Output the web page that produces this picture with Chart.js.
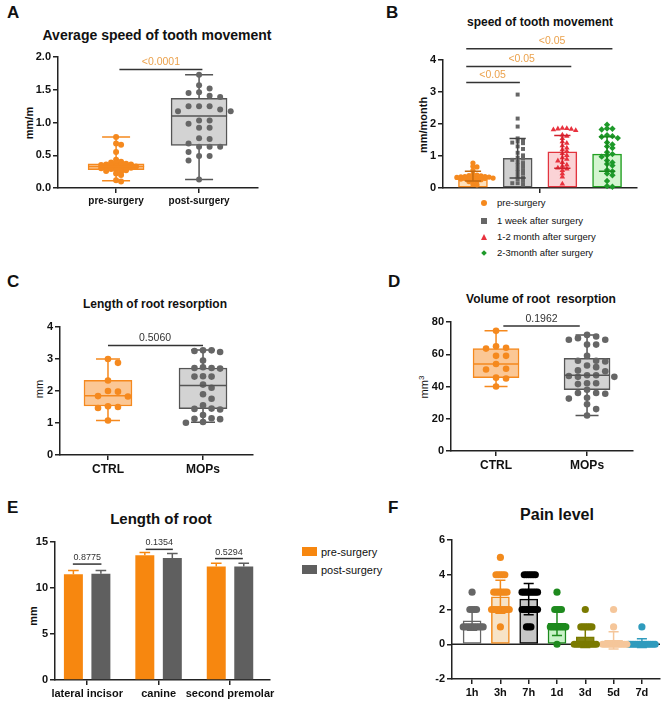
<!DOCTYPE html>
<html>
<head>
<meta charset="utf-8">
<script src="https://cdn.jsdelivr.net/npm/chart.js@4.4.1/dist/chart.umd.min.js"></script>
<style>
body { margin: 0; width: 669px; height: 702px; position: relative; overflow: hidden; background: #fff;
       font-family: "Liberation Sans", Arial, sans-serif; color: #111; }
canvas { position: absolute; }
.t { position: absolute; white-space: pre; transform: translate(-50%, -50%); line-height: 1; font-weight: bold; }
.yl { position: absolute; white-space: nowrap; transform: translate(-50%, -50%) rotate(-90deg); line-height: 1; font-size: 11px; }
.lt { position: absolute; font-weight: bold; font-size: 17px; line-height: 1; }
.lg { position: absolute; white-space: nowrap; line-height: 1; transform: translateY(-50%); }
.mk { position: absolute; transform: translate(-50%, -50%); }
</style>
</head>
<body>
<!-- panel letters -->
<div class="lt" style="left:7px;top:4px">A</div>
<div class="lt" style="left:386px;top:4px">B</div>
<div class="lt" style="left:7px;top:273px">C</div>
<div class="lt" style="left:388px;top:273px">D</div>
<div class="lt" style="left:7px;top:499px">E</div>
<div class="lt" style="left:388px;top:499px">F</div>

<!-- titles -->
<div class="t" style="left:157px;top:35px;font-size:14px">Average speed of tooth movement</div>
<div class="t" style="left:540px;top:22px;font-size:12px">speed of tooth movement</div>
<div class="t" style="left:155px;top:304px;font-size:12px">Length of root resorption</div>
<div class="t" style="left:541px;top:299px;font-size:12px">Volume of root  resorption</div>
<div class="t" style="left:161px;top:518px;font-size:15px">Length of root</div>
<div class="t" style="left:557px;top:515px;font-size:16px">Pain level</div>

<!-- y axis titles -->
<div class="yl" style="left:29px;top:123px;font-weight:bold">mm/m</div>
<div class="yl" style="left:423px;top:125px;font-weight:bold">mm/month</div>
<div class="yl" style="left:39px;top:389px">mm</div>
<div class="yl" style="left:424px;top:387px">mm<sup style="font-size:8px">3</sup></div>
<div class="yl" style="left:33px;top:616px;font-weight:bold">mm</div>

<!-- legend B -->
<div class="mk" style="left:484px;top:203px;width:6px;height:6px;border-radius:50%;background:#f5891e"></div>
<div class="lg" style="left:497px;top:203px;font-size:9.5px">pre-surgery</div>
<div class="mk" style="left:484px;top:221px;width:6px;height:6px;background:#666"></div>
<div class="lg" style="left:497px;top:221px;font-size:9.5px">1 week after surgery</div>
<div class="mk" style="left:484px;top:237px;width:0;height:0;border-left:3px solid transparent;border-right:3px solid transparent;border-bottom:6px solid #e8323e"></div>
<div class="lg" style="left:497px;top:237px;font-size:9.5px">1-2 month after surgery</div>
<div class="mk" style="left:484px;top:253px;width:4px;height:4px;background:#1e9a2a;transform:translate(-50%,-50%) rotate(45deg)"></div>
<div class="lg" style="left:497px;top:253px;font-size:9.5px">2-3month after surgery</div>

<!-- legend E -->
<div style="position:absolute;left:302px;top:547px;width:15px;height:9px;background:#f7870f"></div>
<div class="lg" style="left:321px;top:552px;font-size:11px">pre-surgery</div>
<div style="position:absolute;left:302px;top:565px;width:15px;height:9px;background:#5f5f5f"></div>
<div class="lg" style="left:321px;top:570px;font-size:11px">post-surgery</div>

<script>
// ---------- data ----------
// A: average speed of tooth movement (mm/m)
const speedCats = ['pre-surgery', 'post-surgery'];
const speedPre = [0.78, 0.68, 0.66, 0.55, 0.43, 0.40, 0.39, 0.38, 0.37, 0.36, 0.36, 0.35, 0.35, 0.34, 0.33,
                  0.33, 0.32, 0.31, 0.31, 0.30, 0.30, 0.29, 0.28, 0.27, 0.26, 0.25, 0.22, 0.20, 0.12, 0.10];
const speedPost = [1.73, 1.57, 1.52, 1.46, 1.45, 1.41, 1.39, 1.25, 1.25, 1.25, 1.20, 1.17, 1.17, 1.03, 1.03,
                   0.98, 0.92, 0.92, 0.76, 0.75, 0.68, 0.63, 0.63, 0.63, 0.55, 0.49, 0.49, 0.42, 0.13];
// [min, q1, median, q3, max]
const speedBoxes = [[0.11, 0.28, 0.33, 0.37, 0.78], [0.13, 0.65, 1.10, 1.37, 1.73]];
const speedP = ['<0.0001'];

// B: speed of tooth movement by phase (mm/month)
const phaseNames = ['pre-surgery', '1 week after surgery', '1-2 month after surgery', '2-3month after surgery'];
const phaseMean = [0.37, 0.93, 1.13, 1.06];
const phaseSd = [0.15, 0.62, 0.51, 0.54];
const phaseWeek = [2.92, 2.17, 1.92, 1.55, 1.50, 1.45, 1.42, 1.40, 1.30, 1.22, 1.10, 1.02, 0.95, 0.92, 0.88,
                   0.82, 0.78, 0.72, 0.66, 0.60, 0.55, 0.50, 0.45, 0.38, 0.32, 0.28, 0.22, 0.15, 0.10, 0.15];
const phaseMonth12 = [1.87, 1.86, 1.85, 1.84, 1.82, 1.80, 1.66, 1.62, 1.55, 1.45, 1.40, 1.32, 1.25, 1.20, 1.15,
                      1.08, 1.02, 0.95, 0.90, 0.85, 0.80, 0.72, 0.68, 0.63, 0.60, 0.55, 0.45, 0.35, 0.13];
const phaseMonth23 = [1.98, 1.86, 1.85, 1.83, 1.65, 1.62, 1.60, 1.56, 1.42, 1.36, 1.30, 1.25, 1.12, 1.06,
                      1.02, 0.98, 0.86, 0.80, 0.75, 0.70, 0.56, 0.52, 0.45, 0.40, 0.22, 0.06, 0.04];
const phaseP = ['<0.05', '<0.05', '<0.05'];

// C: length of root resorption (mm)
const resCats = ['CTRL', 'MOPs'];
const lenCtrl = [3.00, 2.88, 2.33, 2.00, 1.98, 1.84, 1.83, 1.52, 1.50, 1.47, 1.08];
const lenMops = [3.27, 3.27, 3.25, 3.22, 2.95, 2.74, 2.72, 2.72, 2.70, 2.46, 2.45, 2.45, 2.20, 2.10, 1.90,
                 1.76, 1.55, 1.45, 1.44, 1.42, 1.25, 1.15, 1.13, 1.12, 1.03, 1.01];
const lenBoxes = [[1.08, 1.53, 1.85, 2.33, 3.00], [1.02, 1.45, 2.17, 2.72, 3.28]];
const lenP = ['0.5060'];

// D: volume of root resorption (mm3)
const volCtrl = [74.5, 65, 64, 63.5, 59, 59, 54, 51, 50.5, 45.5, 45, 40];
const volMops = [72, 71, 70, 69, 69, 66, 66, 59, 56, 56, 55.5, 53, 52, 50, 49.5, 47, 47, 46.5, 46, 46,
                 42, 42, 41.5, 38, 36, 36, 35.5, 33, 32.5, 29, 26, 22];
const volBoxes = [[40, 45.5, 54, 63.5, 74.5], [22, 38, 47, 57.5, 72]];
const volP = ['0.1962'];

// E: length of root (mm)
const toothCats = ['lateral incisor', 'canine', 'second premolar'];
const rootPre = [11.5, 13.55, 12.35];
const rootPost = [11.55, 13.25, 12.35];
const rootPreErr = [0.4, 0.3, 0.35];
const rootPostErr = [0.35, 0.5, 0.35];
const rootP = ['0.8775', '0.1354', '0.5294'];

// F: pain level
const painCats = ['1h', '3h', '7h', '1d', '3d', '5d', '7d'];
const painMean = [1.35, 2.73, 2.6, 1.2, 0.42, 0.22, 0.07];
const painSd = [0.55, 0.95, 0.9, 0.7, 0.6, 0.5, 0.25];
const painScores = [
    [3, 2, 2, 2, 2, 1, 1, 1, 1, 1, 1, 1, 1, 1, 1],
    [5, 4, 4, 4, 4, 4, 3, 3, 3, 3, 3, 3, 3, 2, 2, 2, 2, 2, 2, 2, 2, 2, 1],
    [4, 4, 4, 4, 4, 4, 3, 3, 3, 3, 3, 3, 3, 3, 2, 2, 2, 2, 2, 2, 2, 2, 1, 1, 1],
    [3, 2, 2, 2, 2, 1, 1, 1, 1, 1, 1, 1, 1, 0],
    [2, 1, 1, 1, 1, 1, 1, 0, 0, 0, 0, 0, 0, 0, 0, 0, 0, 0],
    [2, 1, 0, 0, 0, 0, 0, 0, 0, 0, 0, 0, 0, 0],
    [1, 0, 0, 0, 0, 0, 0, 0, 0, 0, 0, 0, 0, 0]
];

// ---------- styling ----------
const FONT = '"Liberation Sans", Arial, sans-serif';
Chart.defaults.font.family = FONT;
Chart.defaults.color = '#111';

const ORANGE = '#f5891e';
const ORANGE_FILL = '#fbc795';
const GRAY_DOT = '#666666';
const GRAY_FILL = '#d3d3d3';
const GRAY_LINE = '#555555';
const AXIS = '#222';

// space around each plot area inside its canvas
const M = { l: 50, t: 50, r: 14, b: 30 };

const grid = { drawOnChartArea: false, drawTicks: true, tickLength: 5, lineWidth: 1.5, color: AXIS, offset: false };
const border = { display: true, width: 1.5, color: AXIS };

function mount(rect) {
    const c = document.createElement('canvas');
    const w = rect.r - rect.l + M.l + M.r;
    const h = rect.b - rect.t + M.t + M.b;
    c.width = w;
    c.height = h;
    c.style.left = (rect.l - M.l) + 'px';
    c.style.top = (rect.t - M.t) + 'px';
    c.style.width = w + 'px';
    c.style.height = h + 'px';
    document.body.appendChild(c);
    return c;
}

function yAxis(min, max, step, fmt) {
    return {
        type: 'linear', min, max,
        grid, border,
        ticks: { stepSize: step, callback: fmt || (v => v), font: { size: 11, weight: 'bold' }, padding: 2 },
        afterFit: s => { s.width = M.l; }
    };
}

function xAxis(min, max, positions, labels, size) {
    return {
        type: 'linear', min, max, offset: false,
        grid, border,
        afterBuildTicks: s => { s.ticks = positions.map(v => ({ value: v })); },
        ticks: { autoSkip: false, maxRotation: 0, padding: 2, font: { size, weight: 'bold' },
                 callback: (v, i) => labels[i] || '' },
        afterFit: s => { s.height = M.b; }
    };
}

function baseOptions(xs, ys) {
    return {
        responsive: false,
        animation: false,
        layout: { padding: { left: 0, top: M.t, right: M.r, bottom: 0 } },
        plugins: { legend: { display: false }, tooltip: { enabled: false } },
        scales: { x: xs, y: ys }
    };
}

// simple beeswarm: put each dot in the nearest free column
function swarm(values, step, gap) {
    const placed = [];
    return values.map(v => {
        for (let j = 0; j < 60; j++) {
            const k = j % 2 ? (j + 1) / 2 : -j / 2;
            if (!placed.some(p => p.k === k && Math.abs(p.v - v) < gap)) {
                placed.push({ v, k });
                return k * step;
            }
        }
        return 0;
    });
}

function dots(idx, values, step, gap, color, style, r) {
    const off = swarm(values, step, gap);
    return {
        type: 'scatter', order: 1, clip: false,
        data: values.map((v, i) => ({ x: idx + off[i], y: v })),
        pointStyle: style, pointRadius: r,
        pointBackgroundColor: color, pointBorderColor: color, pointBorderWidth: 0
    };
}

function boxSet(boxes, fills, strokes, thick) {
    return {
        type: 'bar', order: 2,
        data: boxes.map((b, i) => ({ x: i, y: [b[1], b[3]] })),
        backgroundColor: fills, borderColor: strokes, borderWidth: 1.5,
        borderSkipped: false, barThickness: thick
    };
}

function line(ctx, x0, y0, x1, y1) {
    ctx.moveTo(x0, y0);
    ctx.lineTo(x1, y1);
}

// whiskers behind the boxes, median line on top
function whiskers(boxes, strokes) {
    return {
        id: 'whiskers',
        beforeDatasetsDraw(chart) {
            const { ctx, scales: { x, y } } = chart;
            const bars = chart.getDatasetMeta(0).data;
            ctx.save();
            ctx.lineWidth = 1.5;
            boxes.forEach((b, i) => {
                const cx = x.getPixelForValue(i);
                const hw = bars[i].width * 0.25;
                ctx.strokeStyle = strokes[i];
                ctx.beginPath();
                line(ctx, cx, y.getPixelForValue(b[0]), cx, y.getPixelForValue(b[4]));
                [b[0], b[4]].forEach(v => {
                    const py = y.getPixelForValue(v);
                    line(ctx, cx - hw, py, cx + hw, py);
                });
                ctx.stroke();
            });
            ctx.restore();
        },
        afterDatasetsDraw(chart) {
            const { ctx, scales: { y } } = chart;
            const bars = chart.getDatasetMeta(0).data;
            ctx.save();
            ctx.lineWidth = 1.5;
            boxes.forEach((b, i) => {
                const el = bars[i];
                const py = y.getPixelForValue(b[2]);
                ctx.strokeStyle = strokes[i];
                ctx.beginPath();
                line(ctx, el.x - el.width / 2, py, el.x + el.width / 2, py);
                ctx.stroke();
            });
            ctx.restore();
        }
    };
}

// mean +/- SD error bars on a bar dataset
function errorBars(dsIndex, sds, colors, both) {
    return {
        id: 'errors' + dsIndex,
        afterDatasetsDraw(chart) {
            const { ctx, scales: { y } } = chart;
            const meta = chart.getDatasetMeta(dsIndex);
            const data = chart.data.datasets[dsIndex].data;
            ctx.save();
            ctx.lineWidth = 1.5;
            meta.data.forEach((el, i) => {
                const v = data[i].y;
                const top = y.getPixelForValue(v + sds[i]);
                const bot = both ? y.getPixelForValue(v - sds[i]) : el.y;
                const hw = el.width * 0.28;
                ctx.strokeStyle = colors[i];
                ctx.beginPath();
                line(ctx, el.x, top, el.x, bot);
                line(ctx, el.x - hw, top, el.x + hw, top);
                if (both) line(ctx, el.x - hw, bot, el.x + hw, bot);
                ctx.stroke();
            });
            ctx.restore();
        }
    };
}

// significance brackets: [value, x from, x to, text x]
function sigBars(items, texts, color, size) {
    return {
        id: 'sig',
        afterDraw(chart) {
            const { ctx, scales: { x, y } } = chart;
            ctx.save();
            ctx.lineWidth = 1.5;
            ctx.strokeStyle = '#333';
            ctx.fillStyle = color;
            ctx.font = size + 'px ' + FONT;
            ctx.textAlign = 'center';
            ctx.textBaseline = 'bottom';
            items.forEach((s, i) => {
                const py = y.getPixelForValue(s[0]);
                ctx.beginPath();
                line(ctx, x.getPixelForValue(s[1]), py, x.getPixelForValue(s[2]), py);
                ctx.stroke();
                ctx.fillText(texts[i], x.getPixelForValue(s[3]), py - 2);
            });
            ctx.restore();
        }
    };
}

const zeroLine = {
    id: 'zeroLine',
    beforeDatasetsDraw(chart) {
        const { ctx, chartArea, scales: { y } } = chart;
        const py = y.getPixelForValue(0);
        ctx.save();
        ctx.lineWidth = 1.5;
        ctx.strokeStyle = AXIS;
        ctx.beginPath();
        line(ctx, chartArea.left, py, chartArea.right, py);
        ctx.stroke();
        ctx.restore();
    }
};

// ---------- A ----------
(function () {
    const strokes = [ORANGE, GRAY_LINE];
    new Chart(mount({ l: 58, t: 57, r: 258, b: 188 }), {
        type: 'bar',
        data: {
            datasets: [
                boxSet(speedBoxes, [ORANGE_FILL, GRAY_FILL], strokes, 56),
                dots(0, speedPre, 0.06, 0.045, ORANGE, 'circle', 3),
                dots(1, speedPost, 0.127, 0.09, GRAY_DOT, 'circle', 3)
            ]
        },
        options: baseOptions(
            xAxis(-0.70, 1.71, [0, 1], speedCats, 10),
            yAxis(0, 2, 0.5, v => v.toFixed(1))
        ),
        plugins: [whiskers(speedBoxes, strokes), sigBars([[1.81, 0.04, 1.04, 0.54]], speedP, '#eba24d', 10.5)]
    });
})();

// ---------- B ----------
(function () {
    const fills = ['#fde0bb', '#cfcfcf', '#fbd3d6', '#d4f5d0'];
    const strokes = [ORANGE, GRAY_LINE, '#e2343f', '#22a022'];
    new Chart(mount({ l: 443, t: 60, r: 637, b: 188 }), {
        type: 'bar',
        data: {
            datasets: [
                {
                    type: 'bar', order: 2,
                    data: phaseMean.map((m, i) => ({ x: i, y: m })),
                    backgroundColor: fills, borderColor: strokes, borderWidth: 1.5,
                    borderSkipped: false, barThickness: 29
                },
                dots(0, speedPre, 0.09, 0.05, ORANGE, 'circle', 2.6),
                dots(1, phaseWeek, 0.12, 0.09, GRAY_DOT, 'rect', 2.8),
                dots(2, phaseMonth12, 0.1, 0.1, '#e8323e', 'triangle', 3.2),
                dots(3, phaseMonth23, 0.12, 0.1, '#1e9a2a', 'rectRot', 3.2)
            ]
        },
        options: baseOptions(
            xAxis(-0.67, 3.67, [1.5], [''], 10),
            yAxis(0, 4, 1)
        ),
        plugins: [
            errorBars(0, phaseSd, ['#c46a10', '#444', '#d0202c', '#18881c'], true),
            sigBars([[3.3, -0.15, 1.05, 0.44], [3.8, -0.15, 2.2, 1.09], [4.35, -0.15, 3.12, 1.77]],
                    phaseP, '#eba24d', 10.5)
        ]
    });
})();

// ---------- C ----------
(function () {
    const strokes = [ORANGE, GRAY_LINE];
    new Chart(mount({ l: 60, t: 327, r: 253, b: 455 }), {
        type: 'bar',
        data: {
            datasets: [
                boxSet(lenBoxes, [ORANGE_FILL, GRAY_FILL], strokes, 48),
                dots(0, lenCtrl, 0.105, 0.2, ORANGE, 'circle', 3.3),
                dots(1, lenMops, 0.09, 0.2, GRAY_DOT, 'circle', 3.3)
            ]
        },
        options: baseOptions(
            xAxis(-0.505, 1.526, [0, 1], resCats, 12),
            yAxis(0, 4, 1)
        ),
        plugins: [whiskers(lenBoxes, strokes), sigBars([[3.42, 0, 1, 0.495]], lenP, '#333', 10.5)]
    });
})();

// ---------- D ----------
(function () {
    const strokes = [ORANGE, GRAY_LINE];
    new Chart(mount({ l: 451, t: 322, r: 633, b: 451 }), {
        type: 'bar',
        data: {
            datasets: [
                boxSet(volBoxes, [ORANGE_FILL, GRAY_FILL], strokes, 46),
                dots(0, volCtrl, 0.11, 4, ORANGE, 'circle', 3.3),
                dots(1, volMops, 0.1, 4, GRAY_DOT, 'circle', 3.3)
            ]
        },
        options: baseOptions(
            xAxis(-0.495, 1.505, [0, 1], resCats, 12),
            yAxis(0, 80, 20)
        ),
        plugins: [whiskers(volBoxes, strokes), sigBars([[77.5, 0.08, 0.92, 0.5]], volP, '#333', 10.5)]
    });
})();

// ---------- E ----------
(function () {
    const bar = (vals, color) => ({
        type: 'bar',
        data: vals.map((v, i) => ({ x: i, y: v })),
        backgroundColor: color, borderWidth: 0,
        categoryPercentage: 0.77, barPercentage: 0.69
    });
    new Chart(mount({ l: 55, t: 542, r: 270, b: 680 }), {
        type: 'bar',
        data: { datasets: [bar(rootPre, '#f7870f'), bar(rootPost, '#5f5f5f')] },
        options: baseOptions(
            xAxis(-0.45, 2.56, [0, 1, 2], toothCats, 11),
            yAxis(0, 15, 5)
        ),
        plugins: [
            errorBars(0, rootPreErr, ['#f7870f', '#f7870f', '#f7870f'], false),
            errorBars(1, rootPostErr, ['#5f5f5f', '#5f5f5f', '#5f5f5f'], false),
            sigBars([[12.6, -0.2, 0.2, 0], [14.2, 0.82, 1.2, 1.01], [13.2, 1.79, 2.18, 1.985]],
                    rootP, '#333', 9)
        ]
    });
})();

// ---------- F ----------
(function () {
    const fills = ['#ffffff', '#f7e3c7', '#c6c6c6', '#c9f2c9', '#858510', '#fbe2c8', '#bfe6f2'];
    const strokes = ['#666666', '#f28a1c', '#000000', '#1e8a1e', '#7a7a00', '#f5c69a', '#2f9bbd'];
    const scoreSets = painScores.map((s, i) => dots(i, s, 0.078, 0.5, strokes[i], 'circle', 3.6));
    new Chart(mount({ l: 452, t: 540, r: 660, b: 679 }), {
        type: 'bar',
        data: {
            datasets: [
                {
                    type: 'bar', order: 2,
                    data: painMean.map((m, i) => ({ x: i, y: m })),
                    backgroundColor: fills, borderColor: strokes, borderWidth: 1.5,
                    borderSkipped: false, barThickness: 18
                },
                ...scoreSets
            ]
        },
        options: baseOptions(
            xAxis(-0.71, 6.64, [0, 1, 2, 3, 4, 5, 6], painCats, 11),
            yAxis(-2, 6, 2)
        ),
        plugins: [zeroLine, errorBars(0, painSd, strokes, true)]
    });
})();
</script>
</body>
</html>
